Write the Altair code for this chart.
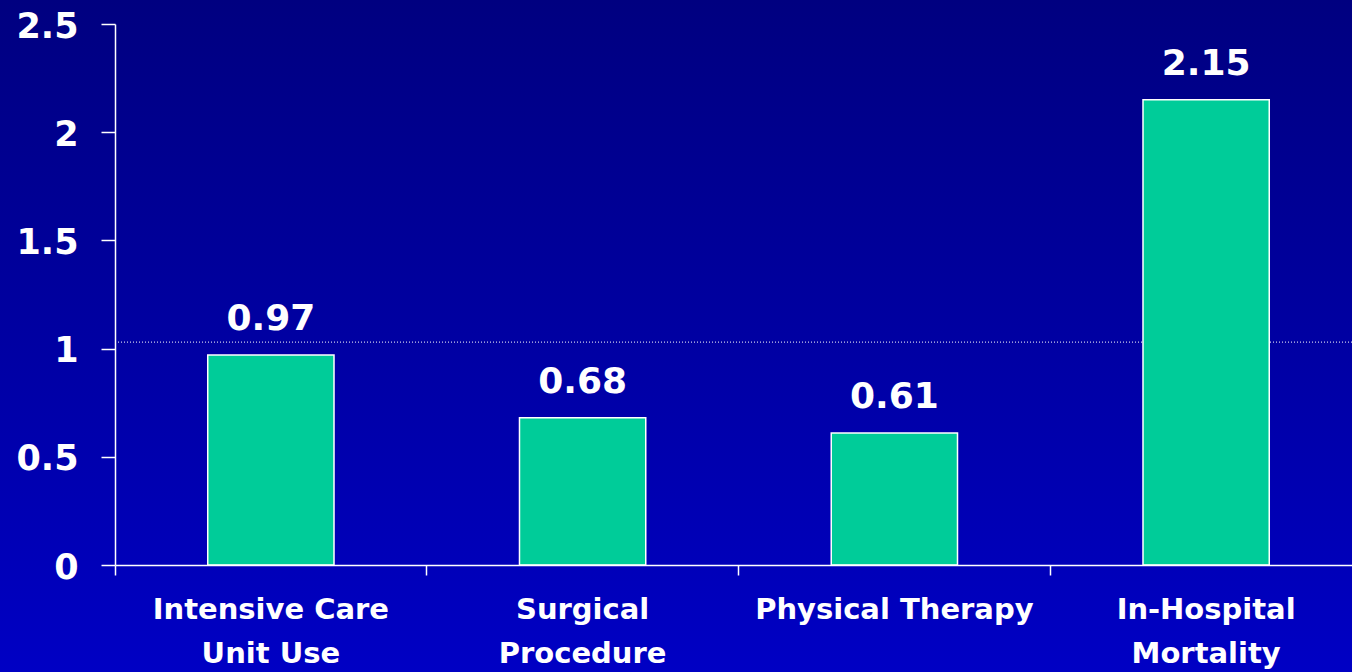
import altair as alt
import pandas as pd

# Values shown above each bar
categories = ["Intensive Care\nUnit Use", "Surgical\nProcedure", "Physical Therapy", "In-Hospital\nMortality"]
values = [0.97, 0.68, 0.61, 2.15]
y_ticks = [0, 0.5, 1, 1.5, 2, 2.5]
reference_value = 1.03

FONT = "DejaVu Sans"
W, H = 1237, 541

bars_df = pd.DataFrame({"category": categories, "value": values})
ref_df = pd.DataFrame({"ref": [reference_value]})
bg_df = pd.DataFrame({"k": [0]})

x_enc = alt.X(
    "category:N",
    sort=categories,
    scale=alt.Scale(paddingInner=0, paddingOuter=0, range=[0, 1247]),
    axis=alt.Axis(
        title=None,
        labelAngle=0,
        labelExpr="split(datum.label, '\\n')",
        labelFont=FONT,
        labelFontSize=29,
        labelFontWeight="bold",
        labelColor="white",
        labelLineHeight=44,
        labelPadding=20,
        labelBaseline="top",
        labelLimit=0,
        domainColor="white",
        domainWidth=1.5,
        tickColor="white",
        tickWidth=1.5,
        tickSize=10,
        bandPosition=0,
        zindex=1,
    ),
)

y_scale = alt.Scale(domain=[0, 2.5], nice=False)

background = alt.Chart(bg_df).mark_rect(
    fill=alt.Gradient(
        gradient="linear",
        stops=[
            alt.GradientStop(color="#000080", offset=0),
            alt.GradientStop(color="#0000C4", offset=1),
        ],
        x1=0, x2=0, y1=0, y2=1,
    )
).encode(x=alt.value(-115), x2=alt.value(W), y=alt.value(-24), y2=alt.value(H + 107))

ref_line = alt.Chart(ref_df).mark_rule(
    color="white", strokeWidth=1, strokeDash=[1, 2]
).encode(y=alt.Y("ref:Q", scale=y_scale))

bars = alt.Chart(bars_df).mark_bar(
    color="#00CC99", stroke="white", strokeWidth=1.5,
    width=alt.RelativeBandSize(0.405),
).encode(
    x=x_enc,
    y=alt.Y(
        "value:Q",
        scale=y_scale,
        axis=alt.Axis(
            title=None,
            values=y_ticks,
            format="~g",
            grid=False,
            labelFont=FONT,
            labelFontSize=35,
            labelFontWeight="bold",
            labelColor="white",
            labelPadding=23,
            labelOffset=2,
            domainColor="white",
            domainWidth=1.5,
            tickColor="white",
            tickWidth=1.5,
            tickSize=14,
            zindex=1,
        ),
    ),
)

labels = alt.Chart(bars_df).mark_text(
    dy=-25, baseline="alphabetic", font=FONT, fontSize=36,
    fontWeight="bold", color="white",
).encode(
    x=alt.X("category:N", sort=categories),
    y=alt.Y("value:Q", scale=y_scale),
    text=alt.Text("value:Q", format=".2f"),
)

chart = alt.layer(background, ref_line, bars, labels).properties(
    width=W,
    height=H,
    autosize=alt.AutoSizeParams(type="none"),
    padding={"left": 115, "top": 24, "right": 0, "bottom": 107},
    background="#0000A0",
).configure_view(stroke=None)

chart.save("out.html", embed_options={"renderer": "svg", "actions": False})
